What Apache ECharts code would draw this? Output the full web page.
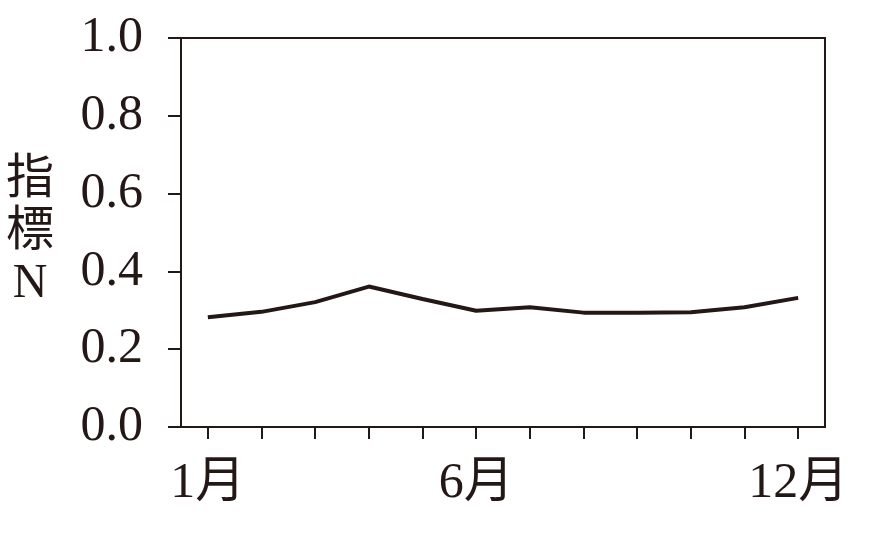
<!DOCTYPE html>
<html>
<head>
<meta charset="utf-8">
<script src="https://cdn.jsdelivr.net/npm/echarts@6/dist/echarts.min.js"></script>
<style>html,body{margin:0;padding:0;background:#fff}#c{width:871px;height:542px}</style>
</head>
<body>
<div id="c"></div>
<script>
var categories = ['1月','2月','3月','4月','5月','6月','7月','8月','9月','10月','11月','12月'];
var shownLabels = [0, 5, 11];
var valuesN = [0.282, 0.296, 0.321, 0.361, 0.329, 0.299, 0.308, 0.294, 0.294, 0.295, 0.308, 0.332];
var yName = '指\n標\nN';

var ink = '#231815';
var fontFam = '"Liberation Serif", "DejaVu Serif", "Noto Sans CJK JP", serif';
var chart = echarts.init(document.getElementById('c'));
chart.setOption({
  animation: false,
  grid: { left: 181, right: 46, top: 38, bottom: 115, show: true, borderColor: ink, borderWidth: 2, backgroundColor: 'transparent' },
  xAxis: {
    type: 'category',
    data: categories,
    boundaryGap: true,
    axisLine: { lineStyle: { color: ink, width: 2 } },
    axisTick: { show: true, alignWithLabel: true, interval: 0, length: 12, inside: false, lineStyle: { color: ink, width: 2 } },
    axisLabel: {
      interval: function (i) { return shownLabels.indexOf(i) >= 0; },
      color: ink, fontSize: 50, fontFamily: fontFam, margin: 32
    },
    splitLine: { show: false }
  },
  yAxis: {
    type: 'value',
    min: 0, max: 1, interval: 0.2,
    name: yName,
    nameLocation: 'middle',
    nameRotate: 0,
    nameGap: 151,
    nameTextStyle: { color: ink, fontSize: 48, lineHeight: 52, fontFamily: fontFam, align: 'center', verticalAlign: 'middle' },
    axisLine: { show: true, lineStyle: { color: ink, width: 2 } },
    axisTick: { show: true, length: 13, lineStyle: { color: ink, width: 2 } },
    axisLabel: { color: ink, fontSize: 50, fontFamily: fontFam, margin: 38, formatter: function (v) { return v.toFixed(1); } },
    splitLine: { show: false }
  },
  series: [{
    type: 'line',
    data: valuesN,
    symbol: 'none',
    lineStyle: { color: ink, width: 4 }
  }]
});
</script>
</body>
</html>
